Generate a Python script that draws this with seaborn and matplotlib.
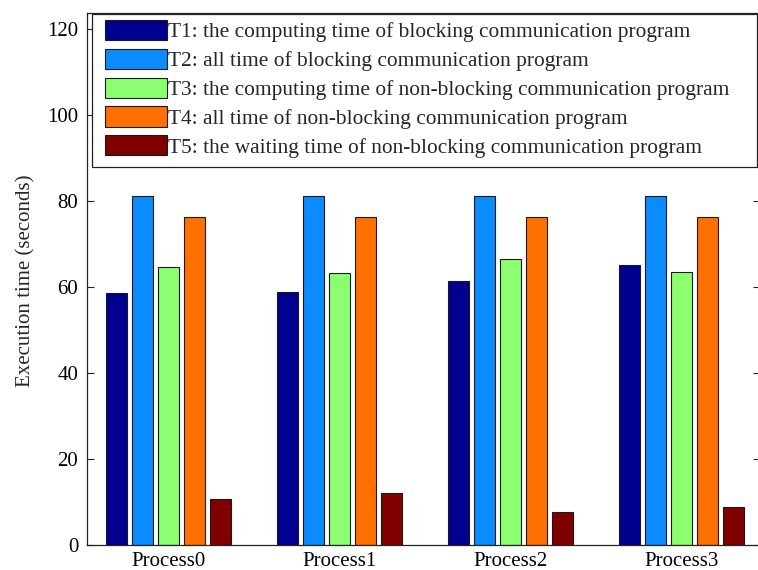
import matplotlib
matplotlib.use("Agg")
import matplotlib.pyplot as plt
from matplotlib.patches import Rectangle
import seaborn as sns
import pandas as pd

# Execution time per process (seconds)
processes = ["Process0", "Process1", "Process2", "Process3"]
series_labels = [
    "T1: the computing time of blocking communication program",
    "T2: all time of blocking communication program",
    "T3: the computing time of non-blocking communication program",
    "T4: all time of non-blocking communication program",
    "T5: the waiting time of non-blocking communication program",
]
t1 = [58.6, 59.0, 61.5, 65.1]
t2 = [81.2, 81.2, 81.2, 81.2]
t3 = [64.8, 63.3, 66.5, 63.6]
t4 = [76.4, 76.4, 76.4, 76.4]
t5 = [10.7, 12.1, 7.7, 8.8]
y_ticks = [0, 20, 40, 60, 80, 100, 120]

colors = ["#00008f", "#0a8cff", "#8cff70", "#ff7000", "#800000"]

rows = []
for label, values in zip(series_labels, [t1, t2, t3, t4, t5]):
    for proc, v in zip(processes, values):
        rows.append({"process": proc, "series": label, "time": v})
df = pd.DataFrame(rows)

sns.set_theme(style="white")
plt.rcParams["font.family"] = ["Liberation Serif", "DejaVu Serif"]
plt.rcParams["axes.edgecolor"] = "#222222"
plt.rcParams["axes.linewidth"] = 0.9

W, H = 758, 570
fig = plt.figure(figsize=(W / 100, H / 100), dpi=100)
ax_left, ax_right, ax_top, ax_bottom = 86.7, 760.0, 12.5, 545.3
ax = fig.add_axes([ax_left / W, 1 - ax_bottom / H,
                   (ax_right - ax_left) / W, (ax_bottom - ax_top) / H])

sns.barplot(data=df, x="process", y="time", hue="series",
            order=processes, hue_order=series_labels, palette=colors,
            width=0.763, gap=0.2, edgecolor="#1a1a1a", linewidth=0.8,
            errorbar=None, saturation=1, ax=ax)

ax.set_xlim(-0.4795, 3.458)
ax.set_ylim(0, 123.9)
ax.set_yticks(y_ticks)
ax.set_xlabel("")
ax.set_ylabel("Execution time (seconds)", fontsize=15)
ax.yaxis.set_label_coords(-0.076, 0.4964)
ax.tick_params(direction="in", length=5, width=0.8, top=True, right=True,
               bottom=True, left=True, labelsize=15, pad=6, colors="#222222")
ax.tick_params(axis="x", pad=5)
for lab in ax.get_xticklabels() + ax.get_yticklabels():
    lab.set_color("black")
for side in ["top", "right", "bottom", "left"]:
    ax.spines[side].set_visible(True)

# Legend: entries without frame, box drawn as a rectangle
handles, labels = ax.get_legend_handles_labels()
if ax.get_legend() is not None:
    ax.get_legend().remove()
leg_fs = 15.4
fs_px = leg_fs * 100 / 72
leg = ax.legend(handles, labels, loc="upper left",
                bbox_to_anchor=((105 - ax_left) / (ax_right - ax_left),
                                (ax_bottom - 20.0) / (ax_bottom - ax_top)),
                frameon=False, fontsize=leg_fs, borderpad=0, borderaxespad=0,
                handlelength=62 / fs_px, handleheight=23 / fs_px,
                handletextpad=0.05, labelspacing=0.3)
for p in leg.get_patches():
    p.set_edgecolor("#1a1a1a")
    p.set_linewidth(0.8)

x0 = (92.3 - ax_left) / (ax_right - ax_left)
x1 = (757.0 - ax_left) / (ax_right - ax_left)
y1 = (ax_bottom - 14.0) / (ax_bottom - ax_top)
y0 = (ax_bottom - 167.0) / (ax_bottom - ax_top)
ax.add_patch(Rectangle((x0, y0), x1 - x0, y1 - y0, transform=ax.transAxes,
                       fill=True, facecolor="white", edgecolor="#222222",
                       linewidth=0.9, zorder=4))
leg.set_zorder(5)

fig.savefig("out.png", dpi=100)
